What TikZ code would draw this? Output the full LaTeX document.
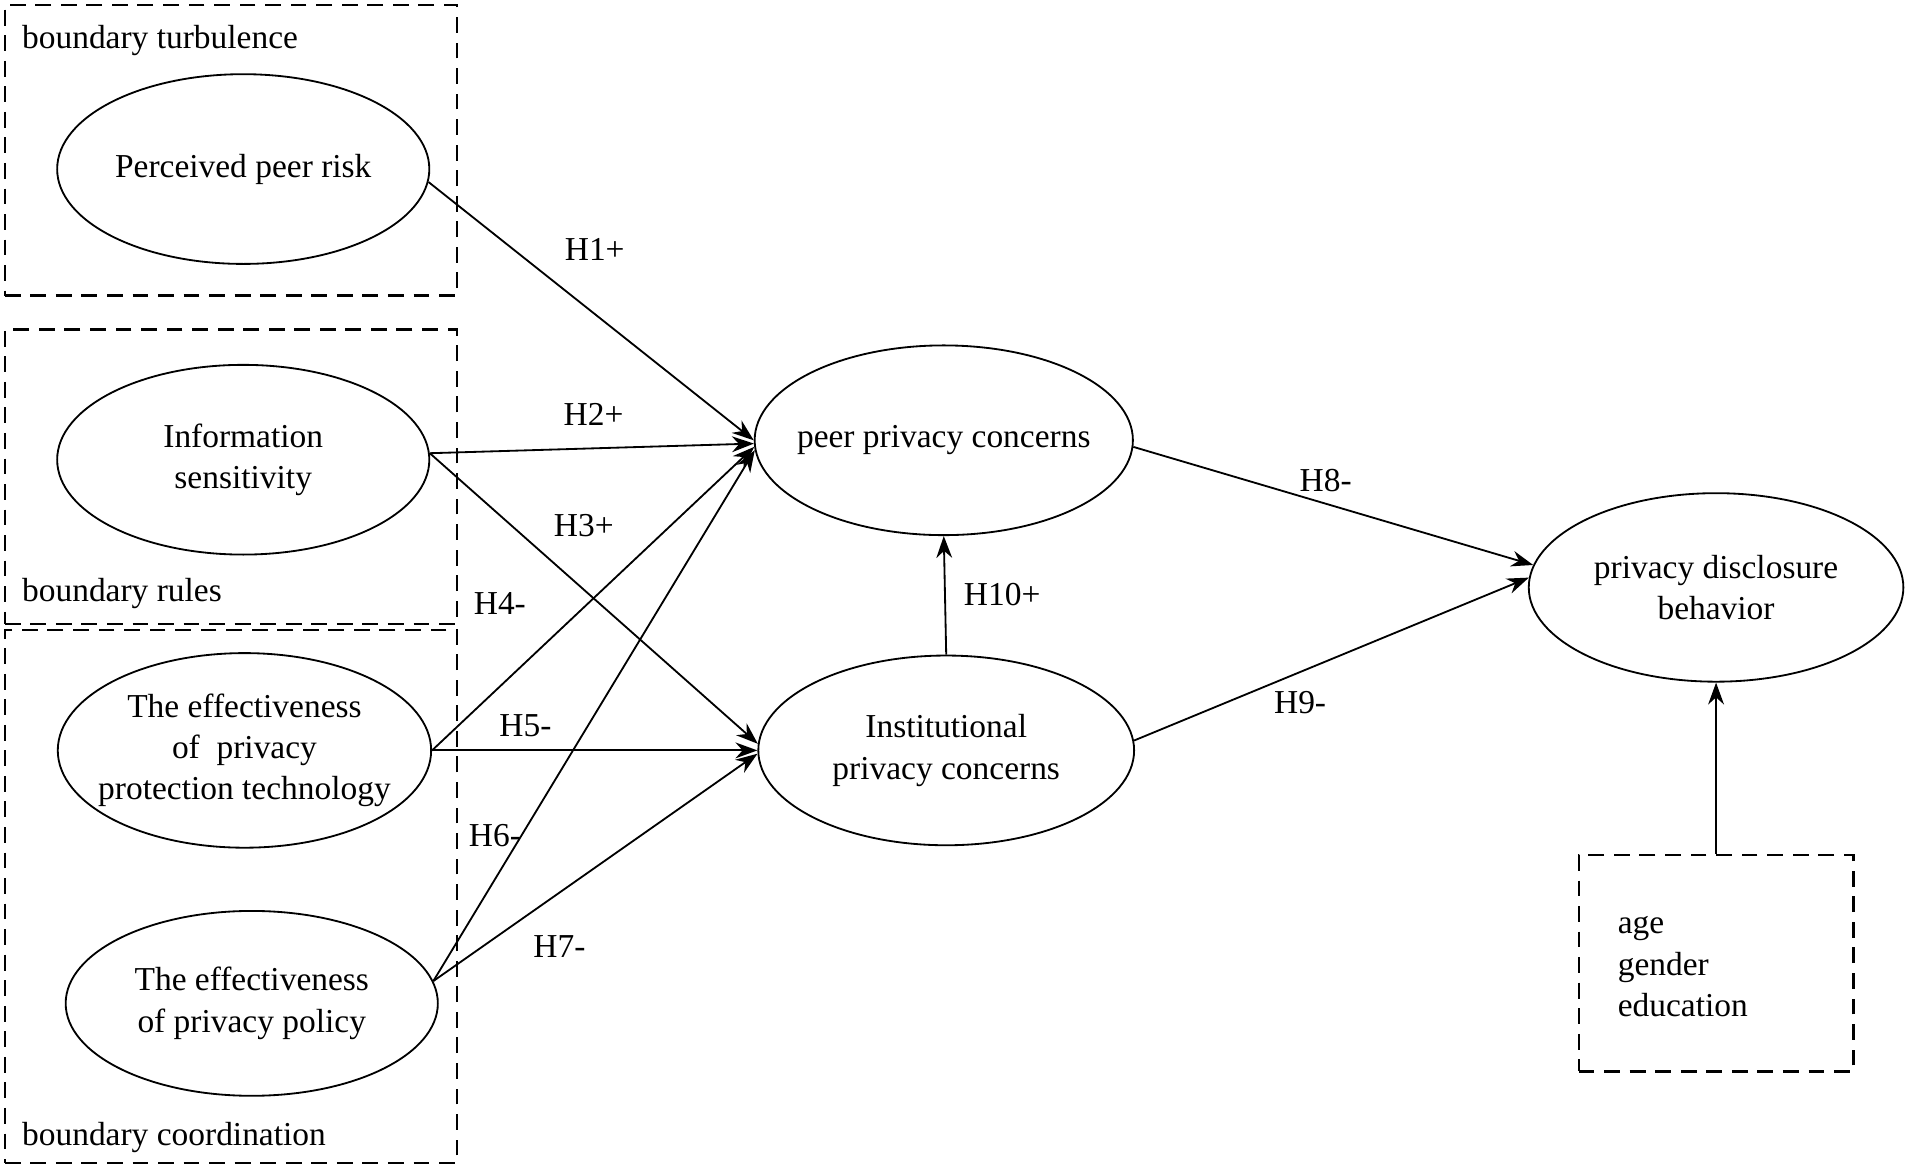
\documentclass[tikz,border=0pt]{standalone}
\usepackage{fontspec}
\setmainfont{Liberation Serif}
\usetikzlibrary{arrows.meta,shapes.geometric}
\begin{document}
\begin{tikzpicture}[x=1pt,y=-1pt,
  every node/.style={font=\fontsize{27.5}{34}\selectfont},
  ell/.style={ellipse,draw,line width=1.5pt,minimum width=306pt,minimum height=156pt,inner sep=0pt,
    label={[align=center,inner sep=0pt]center:#1}},
  grp/.style={draw,line width=1.8pt,dash pattern=on 13pt off 8pt,inner sep=0pt},
  arr/.style={line width=1.5pt,-{Stealth[length=18pt,width=13pt]}},
  lbl/.style={inner sep=0pt}]
\useasboundingbox (0,0) rectangle (1568,960);
% group boxes
\node[grp,minimum width=372pt,minimum height=239pt] (g1) at (190,123.5) {};
\node[grp,minimum width=372pt,minimum height=242pt] (g2) at (190,392) {};
\node[grp,minimum width=372pt,minimum height=438pt] (g3) at (190,737) {};
\node[lbl,anchor=west] (t1) at (18,33) {boundary turbulence};
\node[lbl,anchor=west] (t2) at (18,488) {boundary rules};
\node[lbl,anchor=west] (t3) at (18,935) {boundary coordination};
% ellipses
\node[ell={Perceived peer risk}] (risk) at (200,139) {};
\node[ell={Information\\sensitivity}] (info) at (200,378) {};
\node[ell={The effectiveness\\of\ \ privacy\\protection technology},minimum height=160pt,minimum width=307pt] (tech) at (201,617) {};
\node[ell={The effectiveness\\of privacy policy},minimum height=152pt] (pol) at (207,825) {};
\node[ell={peer privacy concerns},minimum width=311pt] (peer) at (776,362) {};
\node[ell={Institutional\\privacy concerns},minimum width=309pt] (inst) at (778,617) {};
\node[ell={privacy disclosure\\behavior},minimum width=308pt,minimum height=155pt] (disc) at (1411,483) {};
% controls
\node[grp,minimum width=226pt,minimum height=178pt] (ctrl) at (1411,792) {};
\node[lbl,anchor=west,align=left] (ctrltxt) at (1330,795) {age\\gender\\education};
% arrows
\draw[arr] (risk.356) -- (peer.180.5);
\draw[arr] (info.2) -- (peer.181.5);
\draw[arr] (info.2) -- (inst.178.5);
\draw[arr] (tech.east) -- (peer.182.5);
\draw[arr] (tech.east) -- (inst.180);
\draw[arr] (pol.7) -- (peer.183);
\draw[arr] (pol.7) -- (inst.181.5);
\draw[arr] (inst.north) -- (peer.south);
\draw[arr] (peer.358) -- (disc.173.5);
\draw[arr] (inst.3) -- (disc.177);
\draw[arr] (ctrl.north) -- (disc.south);
% labels
\node[lbl] (h1) at (489,205) {H1+};
\node[lbl] (h2) at (488,341) {H2+};
\node[lbl] (h3) at (480,432) {H3+};
\node[lbl] (h4) at (411,496) {H4-};
\node[lbl] (h5) at (432,597) {H5-};
\node[lbl] (h6) at (407,687) {H6-};
\node[lbl] (h7) at (460,778) {H7-};
\node[lbl] (h10) at (824,489) {H10+};
\node[lbl] (h8) at (1090,395) {H8-};
\node[lbl] (h9) at (1069,578) {H9-};
\end{tikzpicture}
\end{document}
